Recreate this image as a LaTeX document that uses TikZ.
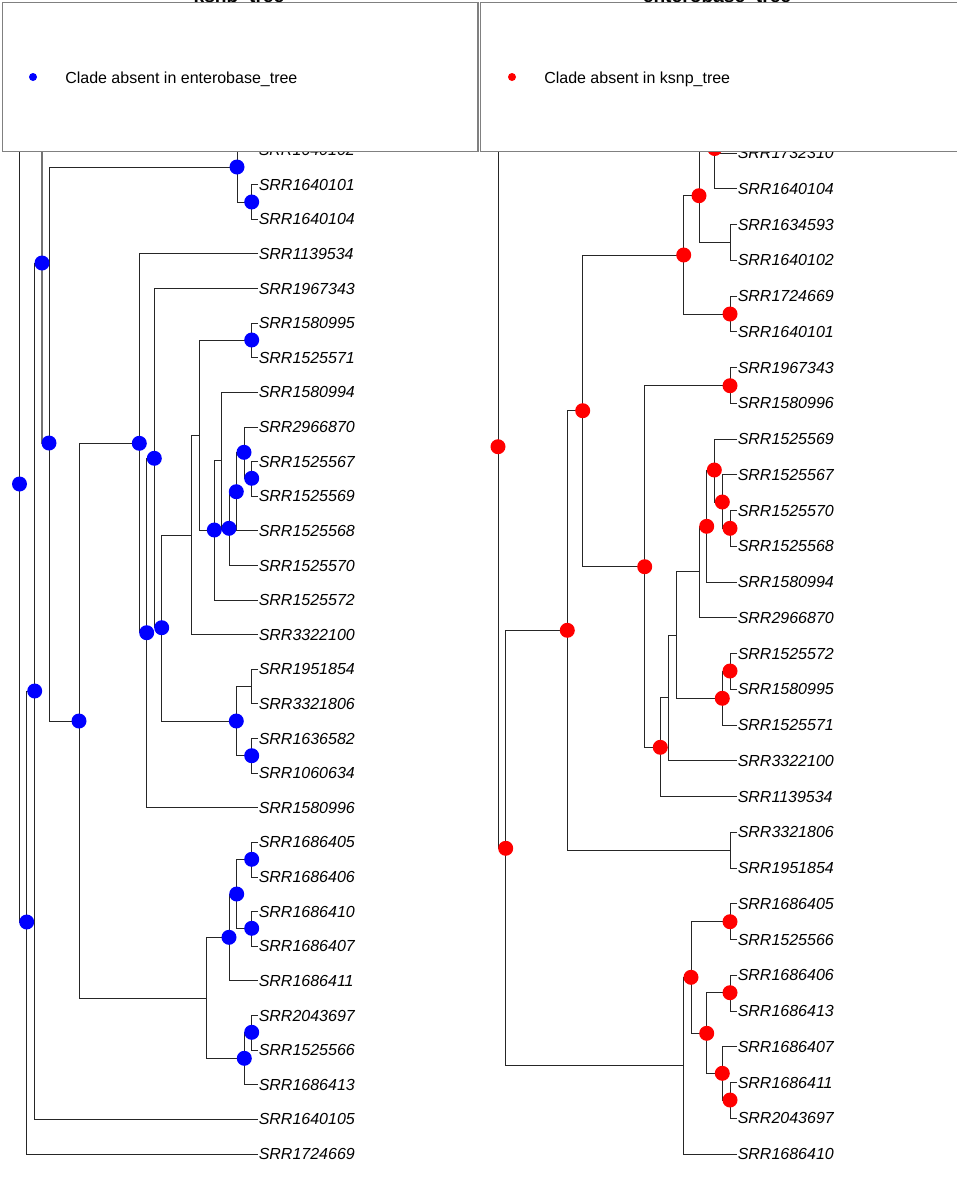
\documentclass[tikz,border=0pt]{standalone}
\usepackage{fontspec}
\setmainfont{Liberation Sans}
\definecolor{bl}{RGB}{0,0,255}
\definecolor{rd}{RGB}{255,0,0}
\begin{document}
\begin{tikzpicture}[x=0.75pt,y=-0.75pt,
  br/.style={line width=0.75pt, black!85},
  brg/.style={line width=1.5pt, black!55},
  lab/.style={anchor=west, inner sep=0pt, font=\itshape\fontsize{12}{14}\selectfont},
  bdot/.style={circle, fill=bl, inner sep=0pt, minimum size=11.25pt},
  rdot/.style={circle, fill=rd, inner sep=0pt, minimum size=11.25pt},
  legbox/.style={draw=black!50, line width=1pt, fill=white},
  legtxt/.style={anchor=base west, inner sep=0pt, font=\fontsize{12}{14}\selectfont},
  ttl/.style={anchor=base, inner sep=0pt, font=\bfseries\fontsize{14.4}{17}\selectfont}]
\useasboundingbox (0,0) rectangle (957,1200);
\fill[white] (0,0) rectangle (957,1200);
% titles (mostly hidden above the page / under legends)
\node[ttl] (t1) at (239,2.6) {ksnp\_tree};
\node[ttl] (t2) at (717,2.6) {enterobase\_tree};
% ================= LEFT TREE =================
\draw[br] (19.5,140)--(19.5,922)--(26.7,922);
\draw[br] (34.7,691)--(26.7,691)--(26.7,1154)--(258,1154);
\draw[br] (42,263)--(34.7,263)--(34.7,1119.4)--(258,1119.4);
\draw[brg] (42,140)--(42,443)--(49,443);
\draw[br] (237,167)--(49,167)--(49,721)--(79,721);
\draw[br] (139.3,443)--(79,443)--(79,998)--(206.7,998);
\draw[br] (258,150)--(237,150)--(237,140) (237,150)--(237,202)--(251.7,202);
\draw[br] (258,184.6)--(251.7,184.6)--(251.7,219.3)--(258,219.3);
\draw[br] (258,253.9)--(139.3,253.9)--(139.3,632.7)--(146.7,632.7);
\draw[br] (258,288.5)--(154.3,288.5)--(154.3,627.7)--(161.7,627.7);
\draw[br] (154.3,458)--(146.7,458)--(146.7,807.8)--(258,807.8);
\draw[br] (191.7,535)--(161.7,535)--(161.7,721)--(236.3,721);
\draw[br] (199.3,435)--(191.7,435)--(191.7,634.7)--(258,634.7);
\draw[br] (251.7,340)--(199.3,340)--(199.3,530)--(214.3,530);
\draw[br] (258,323.1)--(251.7,323.1)--(251.7,357.7)--(258,357.7);
\draw[br] (221.7,460)--(214.3,460)--(214.3,600.1)--(258,600.1);
\draw[br] (214.3,529)--(229,529);
\draw[br] (258,392.4)--(221.7,392.4)--(221.7,529);
\draw[br] (236.3,491.7)--(229,491.7)--(229,565.5)--(258,565.5);
\draw[br] (244,452)--(236.3,452)--(236.3,530.8)--(258,530.8);
\draw[br] (258,427)--(244,427)--(244,478)--(251.7,478);
\draw[br] (258,461.6)--(251.7,461.6)--(251.7,496.2)--(258,496.2);
\draw[br] (251.7,686.7)--(236.3,686.7)--(236.3,755.7)--(251.7,755.7);
\draw[br] (258,669.3)--(251.7,669.3)--(251.7,703.9)--(258,703.9);
\draw[br] (258,738.6)--(251.7,738.6)--(251.7,773.2)--(258,773.2);
\draw[br] (229,937.3)--(206.7,937.3)--(206.7,1058.3)--(244.3,1058.3);
\draw[br] (236.7,894)--(229,894)--(229,980.9)--(258,980.9);
\draw[br] (251.7,859.3)--(236.7,859.3)--(236.7,928.3)--(251.7,928.3);
\draw[br] (258,842.4)--(251.7,842.4)--(251.7,877)--(258,877);
\draw[br] (258,911.7)--(251.7,911.7)--(251.7,946.3)--(258,946.3);
\draw[br] (251.7,1032.3)--(244.3,1032.3)--(244.3,1084.8)--(258,1084.8);
\draw[br] (258,1015.5)--(251.7,1015.5)--(251.7,1050.1)--(258,1050.1);
% left dots
\foreach \p [count=\i] in {(19.5,484),(26.7,922),(34.7,691),(42,263),(49,443),(79,721),(237,167),(251.7,202),(139.3,443.3),(154.3,458.3),(146.7,632.7),(161.7,627.7),(251.7,340),(214.3,530),(229,528.3),(236.3,491.7),(244,452.3),(251.7,478.3),(236.3,721),(251.7,755.7),(251.7,859.3),(236.7,894),(251.7,928.3),(229,937.3),(251.7,1032.3),(244.3,1058.3)}
  \node[bdot] (bd\i) at \p {};
% left labels
\foreach \y/\t [count=\i] in {1154/SRR1724669,1119.4/SRR1640105,1084.8/SRR1686413,1050.1/SRR1525566,1015.5/SRR2043697,980.9/SRR1686411,946.3/SRR1686407,911.7/SRR1686410,877.0/SRR1686406,842.4/SRR1686405,807.8/SRR1580996,773.2/SRR1060634,738.6/SRR1636582,703.9/SRR3321806,669.3/SRR1951854,634.7/SRR3322100,600.1/SRR1525572,565.5/SRR1525570,530.8/SRR1525568,496.2/SRR1525569,461.6/SRR1525567,427.0/SRR2966870,392.4/SRR1580994,357.7/SRR1525571,323.1/SRR1580995,288.5/SRR1967343,253.9/SRR1139534,219.3/SRR1640104,184.6/SRR1640101,150.0/SRR1640102}
  \node[lab] (ll\i) at (258.5,\y) {\t};
% ================= RIGHT TREE =================
\draw[br] (498,140)--(498,848.3)--(505.7,848.3);
\draw[br] (567.3,630.3)--(505.7,630.3)--(505.7,1065.3)--(683.3,1065.3);
\draw[br] (582.7,410.7)--(567.3,410.7)--(567.3,850)--(730,850);
\draw[br] (737,832.25)--(730,832.25)--(730,868)--(737,868);
\draw[br] (683.7,255)--(582.7,255)--(582.7,566.7)--(644.7,566.7);
\draw[br] (699,195.7)--(683.7,195.7)--(683.7,314)--(730,314);
\draw[br] (737,296)--(730,296)--(730,331.75)--(737,331.75);
\draw[br] (699,140)--(699,242.3)--(730,242.3);
\draw[br] (737,224.5)--(730,224.5)--(730,260.25)--(737,260.25);
\draw[br] (699,148.5)--(714.7,148.5);
\draw[br] (714.7,140)--(714.7,188.75)--(737,188.75) (714.7,153)--(737,153);
\draw[br] (730,385.7)--(644.7,385.7)--(644.7,747.3)--(660.3,747.3);
\draw[br] (737,367.5)--(730,367.5)--(730,403.25)--(737,403.25);
\draw[br] (668.3,697.3)--(660.3,697.3)--(660.3,796.5)--(737,796.5);
\draw[br] (676,635)--(668.3,635)--(668.3,760.75)--(737,760.75);
\draw[br] (699,571.7)--(676,571.7)--(676,698.3)--(722.3,698.3);
\draw[br] (706.7,526.7)--(699,526.7)--(699,617.75)--(737,617.75);
\draw[br] (714.3,470)--(706.7,470)--(706.7,582)--(737,582);
\draw[br] (737,439)--(714.3,439)--(714.3,502)--(722.3,502);
\draw[br] (737,474.75)--(722.3,474.75)--(722.3,528.3)--(730,528.3);
\draw[br] (737,510.5)--(730,510.5)--(730,546.25)--(737,546.25);
\draw[br] (730,671)--(722.3,671)--(722.3,725)--(737,725);
\draw[br] (737,653.5)--(730,653.5)--(730,689.25)--(737,689.25);
\draw[br] (691,977.3)--(683.3,977.3)--(683.3,1154)--(737,1154);
\draw[br] (730,921.7)--(691,921.7)--(691,1033.3)--(706.7,1033.3);
\draw[br] (737,903.75)--(730,903.75)--(730,939.5)--(737,939.5);
\draw[br] (730,992.7)--(706.7,992.7)--(706.7,1073.3)--(722.3,1073.3);
\draw[br] (737,975.25)--(730,975.25)--(730,1011)--(737,1011);
\draw[br] (737,1046.75)--(722.3,1046.75)--(722.3,1100)--(730,1100);
\draw[br] (737,1082.5)--(730,1082.5)--(730,1118.25)--(737,1118.25);
% right dots
\foreach \p [count=\i] in {(498,446.7),(505.7,848.3),(567.3,630.3),(582.7,410.7),(683.7,255),(699,195.7),(714.7,148.5),(730,314),(644.7,566.7),(730,385.7),(660.3,747.3),(706.7,526.3),(714.3,470),(722.3,502),(730,528.3),(722.3,698.3),(730,671),(691,977.3),(730,921.7),(706.7,1033.3),(730,992.7),(722.3,1073.3),(730,1100)}
  \node[rdot] (rd\i) at \p {};
% right labels
\foreach \y/\t [count=\i] in {1154/SRR1686410,1118.25/SRR2043697,1082.5/SRR1686411,1046.75/SRR1686407,1011/SRR1686413,975.25/SRR1686406,939.5/SRR1525566,903.75/SRR1686405,868/SRR1951854,832.25/SRR3321806,796.5/SRR1139534,760.75/SRR3322100,725/SRR1525571,689.25/SRR1580995,653.5/SRR1525572,617.75/SRR2966870,582/SRR1580994,546.25/SRR1525568,510.5/SRR1525570,474.75/SRR1525567,439/SRR1525569,403.25/SRR1580996,367.5/SRR1967343,331.75/SRR1640101,296/SRR1724669,260.25/SRR1640102,224.5/SRR1634593,188.75/SRR1640104,153/SRR1732310}
  \node[lab] (rl\i) at (737.5,\y) {\t};
% ================= LEGENDS =================
\draw[legbox] (2.3,2.3) rectangle (478,151.7);
\draw[legbox] (480.3,2.3) rectangle (965,151.7);
\node[circle, fill=bl, inner sep=0pt, minimum size=6pt] (lg1) at (33,77) {};
\node[legtxt] (lt1) at (65,83) {Clade absent in enterobase\_tree};
\node[circle, fill=rd, inner sep=0pt, minimum size=6pt] (lg2) at (512,77) {};
\node[legtxt] (lt2) at (544,83) {Clade absent in ksnp\_tree};
\end{tikzpicture}
\end{document}
